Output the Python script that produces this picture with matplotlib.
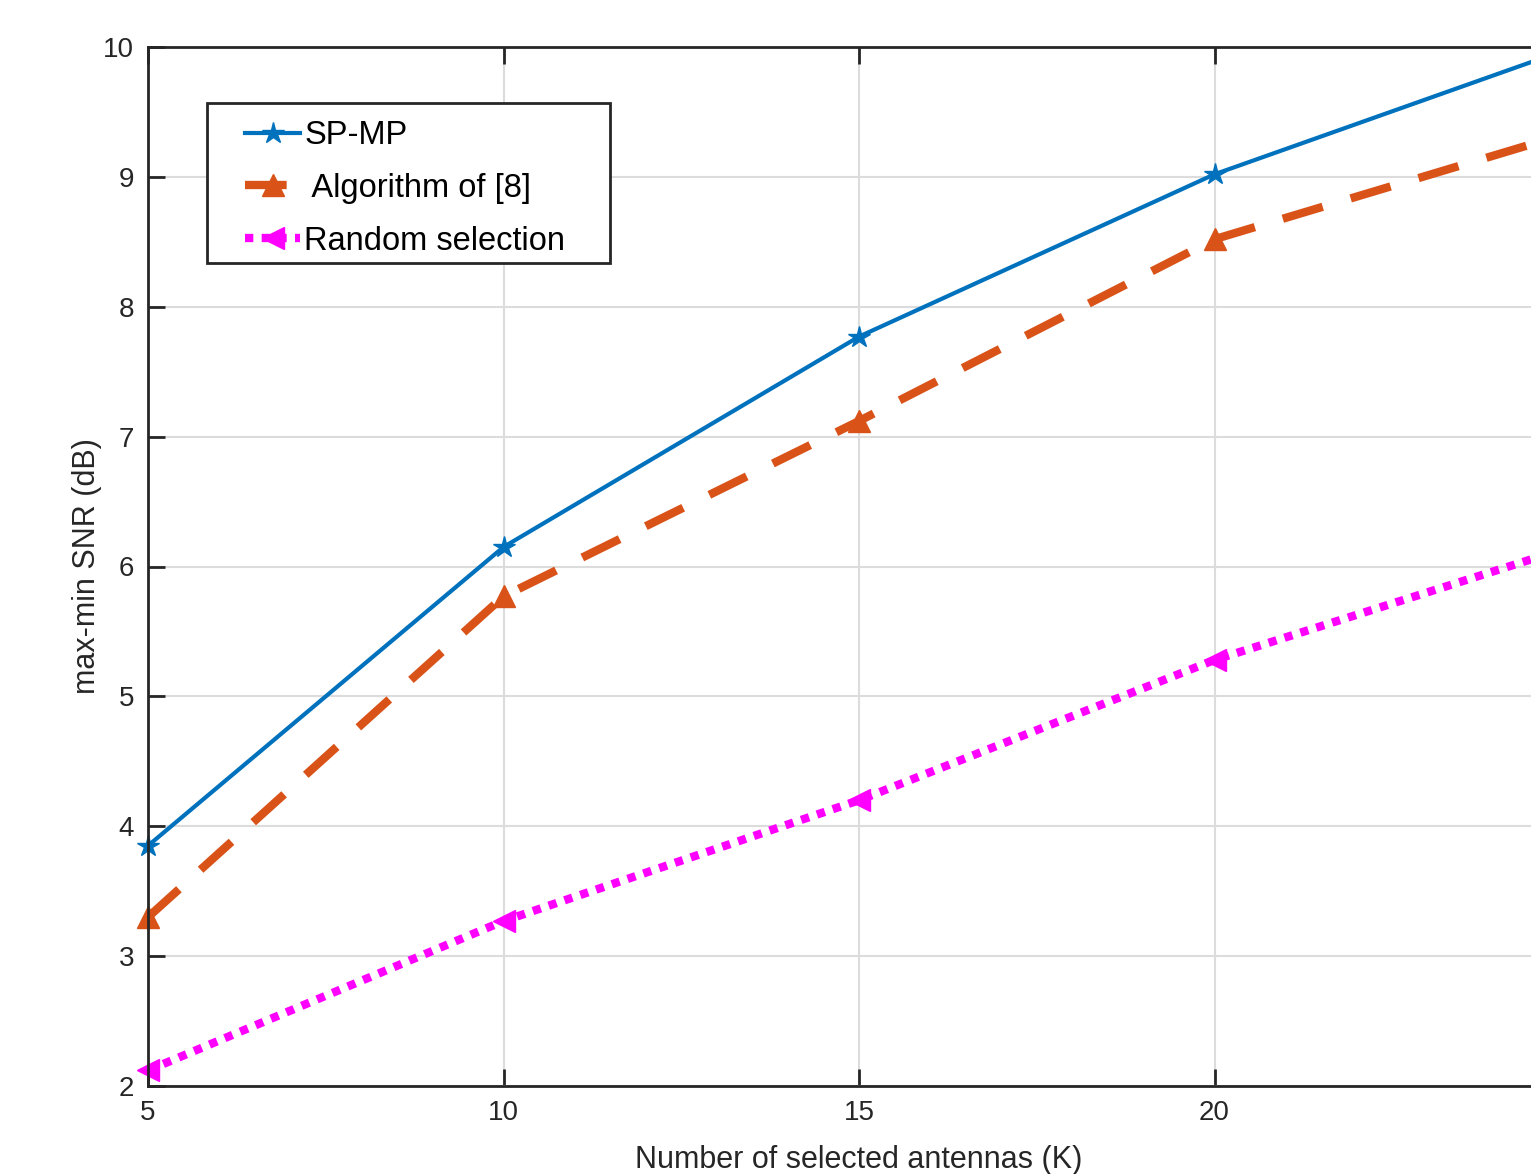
import numpy as np
import matplotlib
matplotlib.use("Agg")
from matplotlib import pyplot as plt
from matplotlib.patches import Rectangle

plt.rcParams['font.family'] = ['Liberation Sans', 'DejaVu Sans']

k_values = [5, 10, 15, 20, 25]
sp_mp = [3.85, 6.15, 7.77, 9.02, 9.99]
algo8 = [3.30, 5.77, 7.12, 8.52, 9.34]
random_sel = [2.12, 3.27, 4.20, 5.28, 6.15]

x_ticks = [5, 10, 15, 20, 25]
x_tick_labels = ['5', '10', '15', '20', '']
y_ticks = [2, 3, 4, 5, 6, 7, 8, 9, 10]

W, H = 1531, 1174
fig = plt.figure(figsize=(W / 100, H / 100), dpi=100)
ax = fig.add_axes([148 / W, 1 - 1086 / H, 1422 / W, 1039 / H])

ax.plot(k_values, sp_mp, color='#0072BD', lw=3, marker='*', ms=16,
        label='SP-MP', clip_on=False)
ax.plot(k_values, algo8, color='#D95319', lw=6, ls=(0, (5, 3.5)), marker='^',
        ms=16, label=' Algorithm of [8]', clip_on=False)
ax.plot(k_values, random_sel, color='#FF00FF', lw=6, ls=(0, (1, 1)), marker='<',
        ms=16, label='Random selection', clip_on=False)

ax.set_xlim(5, 25)
ax.set_ylim(2, 10)
ax.set_xticks(x_ticks)
ax.set_xticklabels(x_tick_labels)
ax.set_yticks(y_ticks)
ax.grid(True, color='#dcdcdc', lw=1.5)
ax.tick_params(direction='in', length=12, width=2, labelsize=20, top=True,
               right=False, colors='#262626', pad=10)
for s in ['left', 'bottom', 'top']:
    ax.spines[s].set_linewidth(2)
    ax.spines[s].set_color('#262626')
ax.spines['right'].set_visible(False)

ax.set_xlabel('Number of selected antennas (K)', fontsize=22, color='#262626', labelpad=14)
ax.set_ylabel('max-min SNR (dB)', fontsize=22, color='#262626', labelpad=1)

# legend box drawn by hand (MATLAB style padding)
box = Rectangle((207 / W, 1 - 263 / H), 403 / W, 160 / H, transform=fig.transFigure,
                facecolor='white', edgecolor='#262626', lw=2, zorder=4, clip_on=False)
ax.add_patch(box)

leg = ax.legend(loc='upper left', bbox_to_anchor=(245 / W, 1 - 120 / H),
                bbox_transform=fig.transFigure, frameon=False,
                fontsize=23.5, handlelength=1.7, handletextpad=0.12,
                borderpad=0, labelspacing=0.67, borderaxespad=0)
leg.set_zorder(5)

fig.savefig('out.png', dpi=100)
